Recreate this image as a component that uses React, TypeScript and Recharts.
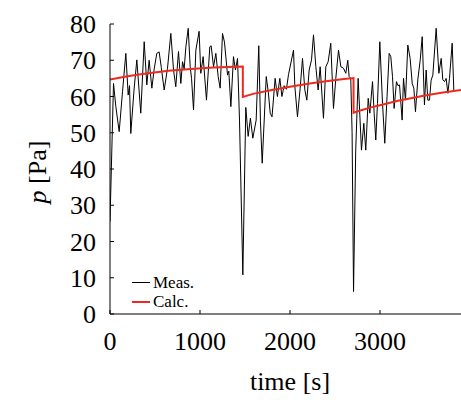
import { LineChart, Line, XAxis, YAxis, Legend, Label } from 'recharts'

const FONT = '"Liberation Serif", "Times New Roman", serif'

// measured pressure: time [s] and value [Pa]
const measTime = [
  0, 39, 65, 102, 139, 176, 202, 217, 231, 267, 298, 342, 380, 409, 435, 465, 491, 520, 546, 570,
  602, 639, 676, 706, 731, 761, 787, 806, 824, 843, 869, 891, 906, 928, 954, 990, 1009, 1035, 1072, 1109,
  1124, 1150, 1176, 1202, 1224, 1250, 1272, 1306, 1320, 1343, 1372, 1394, 1417, 1439, 1476, 1509, 1535, 1560, 1587, 1624,
  1653, 1672, 1691, 1736, 1760, 1780, 1800, 1835, 1860, 1887, 1910, 1935, 1960, 1983, 2039, 2054, 2083, 2113, 2139, 2165,
  2187, 2213, 2239, 2261, 2287, 2313, 2335, 2372, 2398, 2424, 2453, 2483, 2509, 2539, 2565, 2594, 2620, 2642, 2657, 2675,
  2690, 2706, 2730, 2757, 2794, 2820, 2842, 2869, 2887, 2917, 2935, 2953, 2972, 2998, 3028, 3053, 3078, 3102, 3120, 3139,
  3157, 3183, 3200, 3217, 3246, 3261, 3283, 3309, 3335, 3358, 3376, 3394, 3420, 3447, 3469, 3494, 3513, 3531, 3550, 3568,
  3587, 3624, 3654, 3680, 3698, 3717, 3735, 3754, 3772, 3802, 3820,
]
const measValue = [
  25.5, 63.6, 57.2, 50.3, 61.3, 71.9, 60.4, 63, 49.8, 61.8, 70.1, 55.4, 75.1, 63.2, 70, 62.3, 67.6, 71.9, 72.3, 68,
  61.8, 67.8, 77.4, 67.3, 62.7, 72.4, 63.6, 69.6, 67.6, 73.7, 78.8, 68.2, 65, 56.3, 72.8, 78, 66.4, 71, 59, 73.7,
  74, 68.2, 71.9, 65.5, 62.3, 77.4, 75, 65.9, 67, 57.2, 71, 67.3, 70.5, 53.5, 10.8, 57, 49, 54, 48.5, 53.5,
  74, 53, 41.6, 65.5, 61, 55.4, 54.4, 65, 60, 65, 60, 63, 62, 66, 72.8, 62.7, 54.4, 62.3, 70.5, 61.8,
  59, 67.3, 70.1, 77, 68.2, 61.8, 68.2, 54, 68.2, 69.6, 74.7, 56.7, 65, 72.8, 68.2, 67.8, 66.4, 70, 65.5, 65,
  50, 6.2, 45, 65, 45.2, 52.6, 45.2, 59.5, 55.4, 64.1, 55.4, 48, 58.1, 75.1, 58.1, 47.1, 59.9, 71.9, 71, 65.5,
  56.7, 64.1, 63, 63.2, 53.5, 65, 59, 74.2, 70.5, 63.6, 62.3, 55.8, 64.6, 70.1, 76.5, 57.7, 67.3, 59, 59, 64.5,
  65.9, 78.8, 66.4, 70.5, 64.6, 64.1, 65, 60.9, 65, 74.7, 61.8,
]

// calculated pressure
const calcTime = [
  0, 150, 300, 450, 650, 900, 1150, 1476, 1476, 1600, 1800, 2000, 2200, 2400, 2600, 2706,
  2706, 2800, 2900, 3000, 3100, 3200, 3300, 3500, 3700, 3900,
]
const calcValue = [
  64.7, 65.4, 66.0, 66.5, 67.1, 67.6, 68.0, 68.3, 59.9, 60.8, 61.8, 62.7, 63.5, 64.2, 64.8, 65.1,
  55.5, 56.3, 57.0, 57.6, 58.2, 58.8, 59.3, 60.3, 61.1, 61.8,
]

const xTicks = [0, 1000, 2000, 3000]
const yTicks = [0, 10, 20, 30, 40, 50, 60, 70, 80]
const legendOrder = ['Meas.', 'Calc.']

const measData = measTime.map((t, i) => ({ t, v: measValue[i] }))
const calcData = calcTime.map((t, i) => ({ t, v: calcValue[i] }))

const BottomTick = (props: any) => {
  const { x, y, payload } = props
  return (
    <g>
      <line x1={x} y1={y} x2={x} y2={y - 4} stroke="#000" />
      <text x={x} y={y + 36} textAnchor="middle" fontFamily={FONT} fontSize={26} fill="#000">
        {payload.value}
      </text>
    </g>
  )
}

const TopTick = (props: any) => {
  const { x, y } = props
  return <line x1={x} y1={y} x2={x} y2={y + 4} stroke="#000" />
}

const LeftTick = (props: any) => {
  const { x, y, payload } = props
  return (
    <g>
      <line x1={x} y1={y} x2={x + 4} y2={y} stroke="#000" />
      <text x={x - 14} y={y + 9} textAnchor="end" fontFamily={FONT} fontSize={26} fill="#000">
        {payload.value}
      </text>
    </g>
  )
}

const renderLegend = (props: any) => {
  const items = [...(props.payload || [])].sort(
    (a: any, b: any) => legendOrder.indexOf(a.value) - legendOrder.indexOf(b.value)
  )
  return (
    <div style={{ fontFamily: FONT, fontSize: 17, lineHeight: '19px', color: '#000' }}>
      {items.map((entry: any) => (
        <div key={entry.value} style={{ display: 'flex', alignItems: 'center', height: 19 }}>
          <span
            style={{
              display: 'inline-block',
              width: 18,
              height: entry.value === 'Calc.' ? 2 : 1,
              background: entry.color,
              marginRight: 3,
            }}
          />
          {entry.value}
        </div>
      ))}
    </div>
  )
}

export default function App() {
  return (
    <div style={{ position: 'absolute', left: 0, top: 0, background: '#fff' }}>
      <LineChart width={461} height={400} margin={{ top: 24, right: 0, left: 0, bottom: 0 }}>
        <XAxis
          dataKey="t"
          type="number"
          domain={[0, 3900]}
          ticks={xTicks}
          allowDataOverflow
          height={86}
          tickSize={0}
          tickMargin={0}
          tick={BottomTick}
          axisLine={{ stroke: '#000' }}
        >
          <Label
            content={() => (
              <text x={290} y={390} textAnchor="middle" fontFamily={FONT} fontSize={26} fill="#000">
                time [s]
              </text>
            )}
          />
        </XAxis>
        <XAxis
          xAxisId="top"
          orientation="top"
          dataKey="t"
          type="number"
          domain={[0, 3900]}
          ticks={[1000, 2000, 3000]}
          height={0}
          tickSize={0}
          tickMargin={0}
          tick={TopTick}
          axisLine={{ stroke: '#000' }}
        />
        <YAxis
          type="number"
          domain={[0, 80]}
          ticks={yTicks}
          width={110}
          tickSize={0}
          tickMargin={0}
          tick={LeftTick}
          axisLine={{ stroke: '#000' }}
        >
          <Label
            content={() => (
              <text
                x={46}
                y={172}
                transform="rotate(-90 46 172)"
                textAnchor="middle"
                fontFamily={FONT}
                fontSize={26}
                fill="#000"
              >
                <tspan fontStyle="italic">p</tspan> [Pa]
              </text>
            )}
          />
        </YAxis>
        <Line
          data={measData}
          dataKey="v"
          name="Meas."
          type="linear"
          stroke="#000"
          strokeWidth={1}
          dot={false}
          isAnimationActive={false}
        />
        <Line
          data={calcData}
          dataKey="v"
          name="Calc."
          type="linear"
          stroke="#ee2a1e"
          strokeWidth={2}
          dot={false}
          isAnimationActive={false}
        />
        <Legend
          layout="horizontal"
          verticalAlign="middle"
          align="center"
          content={renderLegend}
          wrapperStyle={{ left: 132, top: 273, width: 'auto' }}
        />
      </LineChart>
    </div>
  )
}
